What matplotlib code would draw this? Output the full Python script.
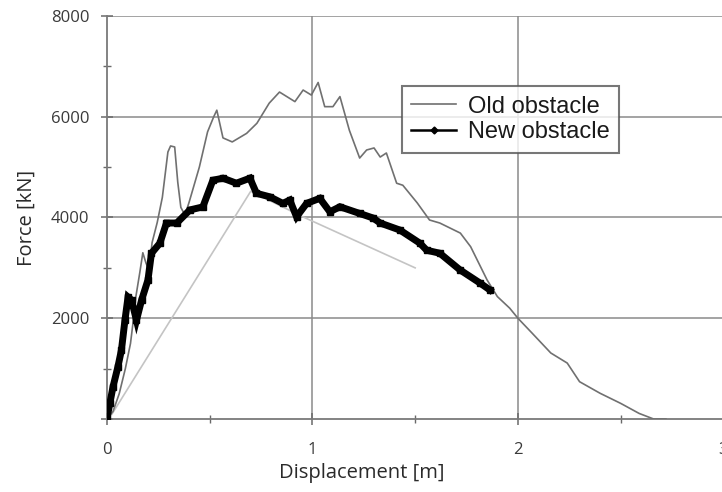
import matplotlib
matplotlib.use("Agg")
import matplotlib.pyplot as plt
from matplotlib.lines import Line2D
from matplotlib.ticker import MultipleLocator

# Old obstacle (thin grey line)
old_x = [0.0, 0.03, 0.06, 0.09, 0.115, 0.13, 0.14, 0.16, 0.175, 0.19, 0.205, 0.22, 0.245, 0.27,
         0.297, 0.31, 0.33, 0.345, 0.36, 0.38, 0.40, 0.45, 0.49, 0.52, 0.535, 0.565, 0.61, 0.68,
         0.73, 0.79, 0.84, 0.915, 0.955, 0.995, 1.028, 1.06, 1.10, 1.134, 1.18, 1.23, 1.264,
         1.30, 1.33, 1.36, 1.41, 1.44, 1.51, 1.57, 1.62, 1.72, 1.77, 1.85, 1.90, 1.96, 2.00,
         2.07, 2.16, 2.24, 2.30, 2.40, 2.50, 2.59, 2.66, 2.72]
old_f = [0, 150, 500, 1000, 1500, 2000, 2400, 2900, 3300, 3100, 2950, 3500, 3900, 4400,
         5300, 5420, 5400, 4700, 4200, 4050, 4300, 5000, 5700, 6000, 6130, 5580, 5500, 5670,
         5870, 6270, 6490, 6300, 6530, 6430, 6680, 6200, 6200, 6400, 5730, 5180, 5340,
         5380, 5200, 5280, 4680, 4640, 4290, 3950, 3890, 3690, 3420, 2760, 2430, 2200, 2000,
         1700, 1310, 1110, 740, 510, 310, 110, 0, 0]

# New obstacle (thick black line with markers)
new_x = [0.0, 0.015, 0.03, 0.054, 0.071, 0.088, 0.103, 0.12, 0.144, 0.169, 0.20, 0.217, 0.258,
         0.29, 0.34, 0.404, 0.467, 0.516, 0.565, 0.63, 0.696, 0.728, 0.793, 0.856, 0.89, 0.923,
         0.972, 1.036, 1.085, 1.134, 1.23, 1.295, 1.33, 1.426, 1.523, 1.556, 1.62, 1.718,
         1.815, 1.864]
new_f = [0, 320, 640, 1040, 1370, 1960, 2420, 2360, 1960, 2360, 2760, 3290, 3490,
         3890, 3890, 4150, 4210, 4740, 4780, 4680, 4780, 4480, 4410, 4280, 4345, 4014,
         4280, 4380, 4113, 4213, 4080, 3990, 3890, 3750, 3490, 3350, 3290, 2960,
         2700, 2560]

# Light grey approximation line
approx_x = [0.01, 0.70, 0.95, 1.50]
approx_f = [0, 4520, 4020, 3000]

x_ticks = [0, 1, 2, 3]
y_ticks = [0, 2000, 4000, 6000, 8000]
y_tick_labels = ["", "2000", "4000", "6000", "8000"]

fig = plt.figure(figsize=(7.22, 4.92), dpi=100)
ax = fig.add_axes([0.148, 0.1484, 0.854, 0.8191])

ax.set_xlim(0, 3)
ax.set_ylim(0, 8000)

grid_c = "#8a8a8a"
for v in [2000, 4000, 6000, 8000]:
    ax.axhline(v, color=grid_c, lw=1.1, zorder=1)
for v in [1, 2, 3]:
    ax.axvline(v, color=grid_c, lw=1.1, zorder=1)

ax.plot(approx_x, approx_f, color="#c4c4c4", lw=1.2, zorder=2)
ax.plot(old_x, old_f, color="#707070", lw=1.2, zorder=3)
ax.plot(new_x, new_f, color="black", lw=5, marker="s", markersize=4,
        solid_joinstyle="miter", zorder=4)

for s in ["top", "right"]:
    ax.spines[s].set_visible(False)
for s in ["left", "bottom"]:
    ax.spines[s].set_color("#7a7a7a")
    ax.spines[s].set_linewidth(1.3)

ax.set_xticks(x_ticks)
ax.set_xticklabels([str(t) for t in x_ticks])
ax.set_yticks(y_ticks)
ax.set_yticklabels(y_tick_labels)
ax.xaxis.set_minor_locator(MultipleLocator(0.5))
ax.yaxis.set_minor_locator(MultipleLocator(1000))
ax.tick_params(which="major", direction="inout", length=9, width=1.1, color="#6a6a6a",
               labelcolor="#3a3a3a", labelsize=12)
ax.tick_params(axis="x", which="major", pad=12)
ax.tick_params(axis="y", which="major", pad=8)
ax.tick_params(which="minor", direction="inout", length=6, width=1.0, color="#6a6a6a")
for lbl in ax.get_xticklabels() + ax.get_yticklabels():
    lbl.set_fontfamily("Open Sans")

ax.set_xlabel("Displacement [m]", fontsize=14.5, color="#2a2a2a", family="Open Sans")
ax.xaxis.set_label_coords(0.414, -0.11)
ax.set_ylabel("Force [kN]", fontsize=14.5, color="#2a2a2a", family="Open Sans", labelpad=10)

handles = [Line2D([], [], color="#707070", lw=1.2),
           Line2D([], [], color="black", lw=1.8, marker="D", markersize=3.5)]
leg = ax.legend(handles, ["Old obstacle", "New obstacle"], loc="upper left",
                bbox_to_anchor=(0.4785, 0.826), fancybox=False, frameon=True,
                prop={"family": "Liberation Sans", "size": 17}, handlelength=1.9,
                handletextpad=0.5, borderpad=0.4, labelspacing=0.15, borderaxespad=0)
leg.get_frame().set_edgecolor("#555555")
leg.get_frame().set_linewidth(1.5)
for t in leg.get_texts():
    t.set_color("#1a1a1a")

fig.savefig("out.png", dpi=100)
